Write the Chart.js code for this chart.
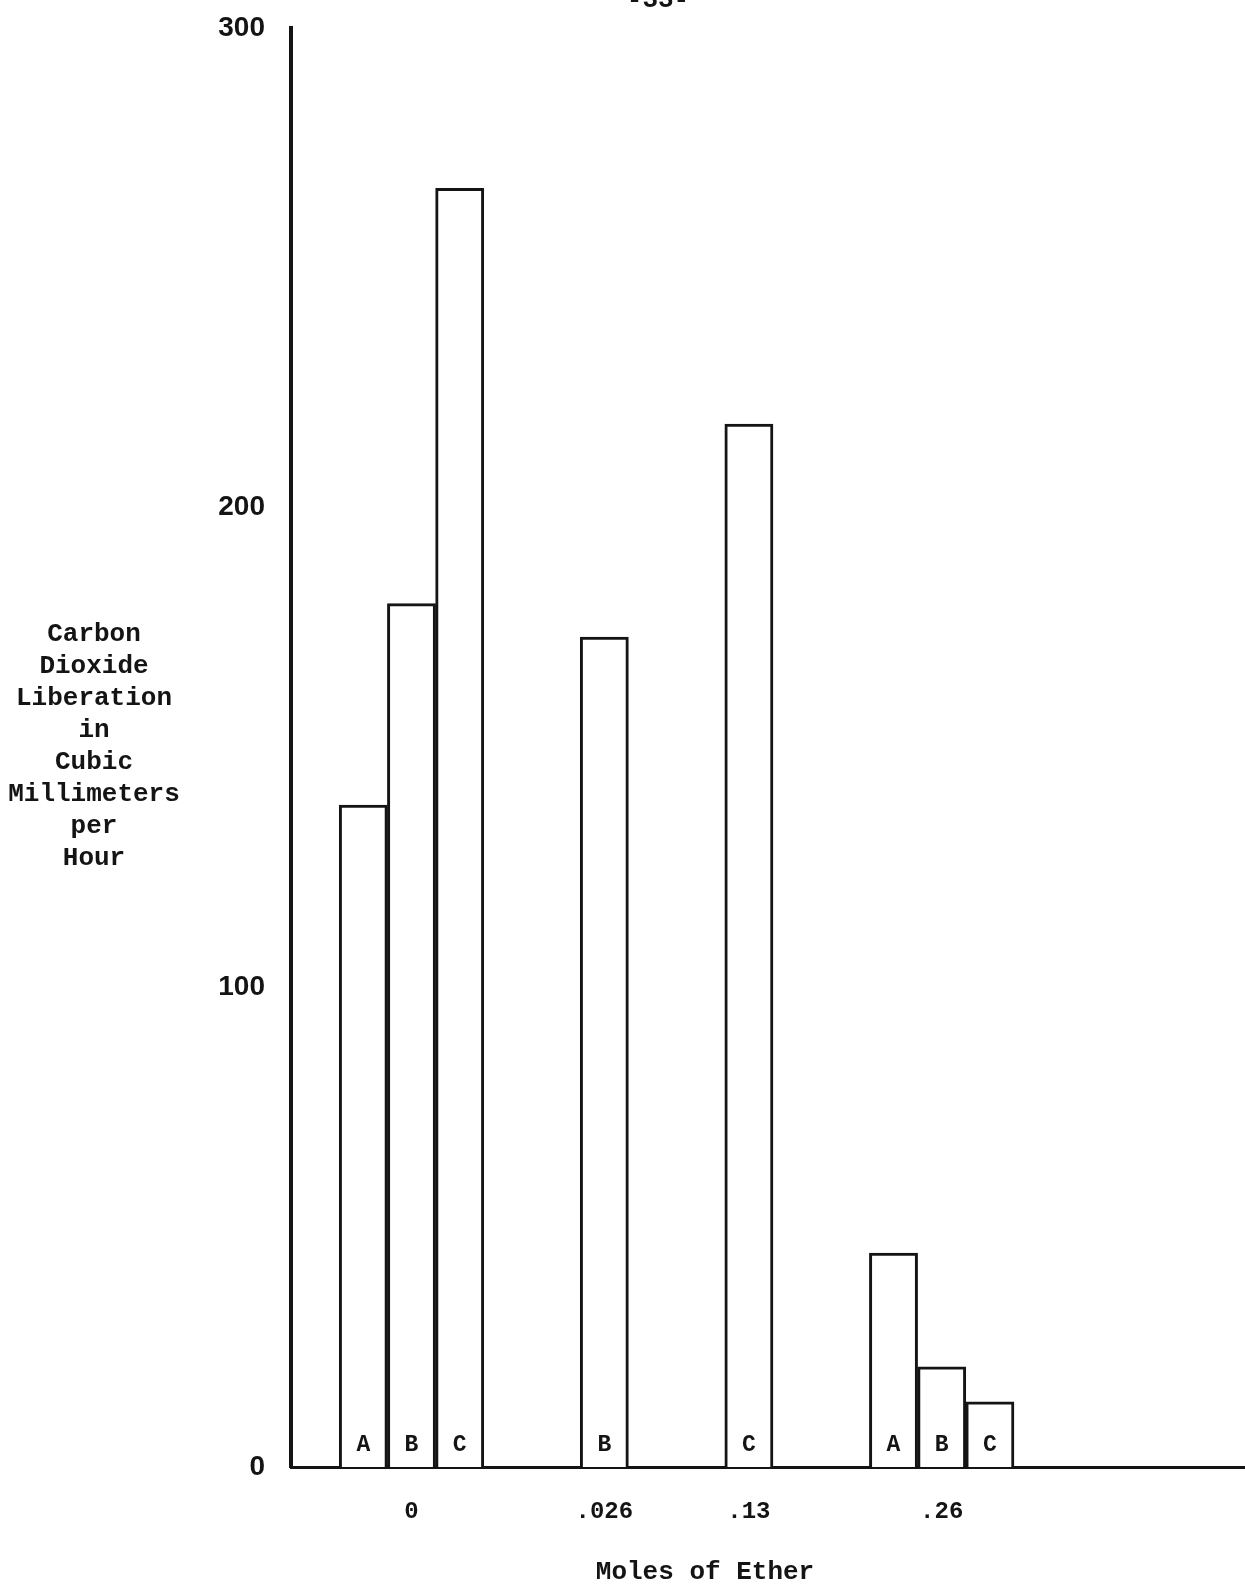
<!DOCTYPE html>
<html>
<head>
<meta charset="utf-8">
<script src="https://cdn.jsdelivr.net/npm/chart.js@4/dist/chart.umd.min.js"></script>
<style>
  html, body { margin: 0; padding: 0; background: #fff; overflow: hidden; }
  #wrap { width: 1260px; height: 1584px; }
</style>
</head>
<body>
<div id="wrap"><canvas id="chart" width="1260" height="1584"></canvas></div>
<script>
// --- Data ---
const categories = ['0', '.026', '.13', '.26'];
const seriesNames = ['A', 'B', 'C'];
const seriesA = [138, null, null, 44.6];
const seriesB = [180, 173, null, 20.9];
const seriesC = [266.6, null, 217.4, 13.6];
const yTicks = [0, 100, 200, 300];

const INK = '#141414';
const MONO = '"Liberation Mono", "DejaVu Sans Mono", monospace';

// --- Build bar slots: each bar gets one slot, 2 empty slots between categories ---
const seriesValues = [seriesA, seriesB, seriesC];
const slotValues = [null];      // one empty slot next to the y axis
const slotLetters = [''];
const slotTicks = [''];
categories.forEach((cat, ci) => {
  if (ci > 0) { slotValues.push(null, null); slotLetters.push('', ''); slotTicks.push('', ''); }
  const start = slotValues.length;
  seriesValues.forEach((vals, si) => {
    if (vals[ci] == null) return;
    slotValues.push(vals[ci]);
    slotLetters.push(seriesNames[si]);
    slotTicks.push('');
  });
  const n = slotValues.length - start;
  slotTicks[start + Math.floor((n - 1) / 2)] = cat;
});
for (let i = 0; i < 5; i++) { slotValues.push(null); slotLetters.push(''); slotTicks.push(''); }

// --- Extra text: axis titles, bar letters, page number ---
const annotations = {
  id: 'annotations',
  afterDraw(chart) {
    const ctx = chart.ctx;
    ctx.save();
    ctx.fillStyle = INK;
    ctx.textAlign = 'center';
    ctx.textBaseline = 'middle';

    ctx.font = 'bold 26px ' + MONO;
    const yTitle = ['Carbon', 'Dioxide', 'Liberation', 'in', 'Cubic', 'Millimeters', 'per', 'Hour'];
    yTitle.forEach((line, i) => ctx.fillText(line, 94, 634 + i * 32));

    ctx.fillText('Moles of Ether', 705, 1572);

    ctx.textBaseline = 'alphabetic';
    ctx.fillText('-33-', 658, 7);

    ctx.textBaseline = 'middle';
    ctx.font = 'bold 23px ' + MONO;
    const y = chart.scales.y.getPixelForValue(0) - 22;
    chart.getDatasetMeta(0).data.forEach((bar, i) => {
      if (slotLetters[i]) ctx.fillText(slotLetters[i], bar.x, y);
    });
    ctx.restore();
  }
};

new Chart(document.getElementById('chart'), {
  type: 'bar',
  data: {
    labels: slotTicks.map((_, i) => i),
    datasets: [{
      data: slotValues,
      backgroundColor: '#ffffff',
      borderColor: INK,
      borderWidth: { top: 3, left: 3, right: 3, bottom: 0 },
      borderSkipped: 'bottom',
      barPercentage: 1,
      categoryPercentage: 1
    }]
  },
  options: {
    responsive: false,
    animation: false,
    devicePixelRatio: 1,
    layout: { padding: { top: 28, right: 5, left: 0, bottom: 0 } },
    plugins: { legend: { display: false }, tooltip: { enabled: false }, title: { display: false } },
    scales: {
      x: {
        grid: { display: false, drawTicks: false },
        border: { display: true, color: INK, width: 3 },
        ticks: {
          autoSkip: false,
          maxRotation: 0,
          padding: 31,
          color: INK,
          font: { family: MONO, size: 24, weight: 'bold' },
          callback: (v, i) => slotTicks[i]
        },
        afterFit: s => { s.height = 117; s.paddingLeft = 0; s.paddingRight = 0; }
      },
      y: {
        min: 0,
        max: 300,
        grid: { display: false, drawTicks: false },
        border: { display: true, color: INK, width: 4 },
        afterBuildTicks: s => { s.ticks = yTicks.map(v => ({ value: v })); },
        ticks: {
          padding: 26,
          color: INK,
          font: { family: '"Liberation Sans", Arial, sans-serif', size: 28, weight: 'bold' }
        },
        afterFit: s => { s.width = 291; s.paddingTop = 0; s.paddingBottom = 0; }
      }
    }
  },
  plugins: [annotations]
});
</script>
</body>
</html>
